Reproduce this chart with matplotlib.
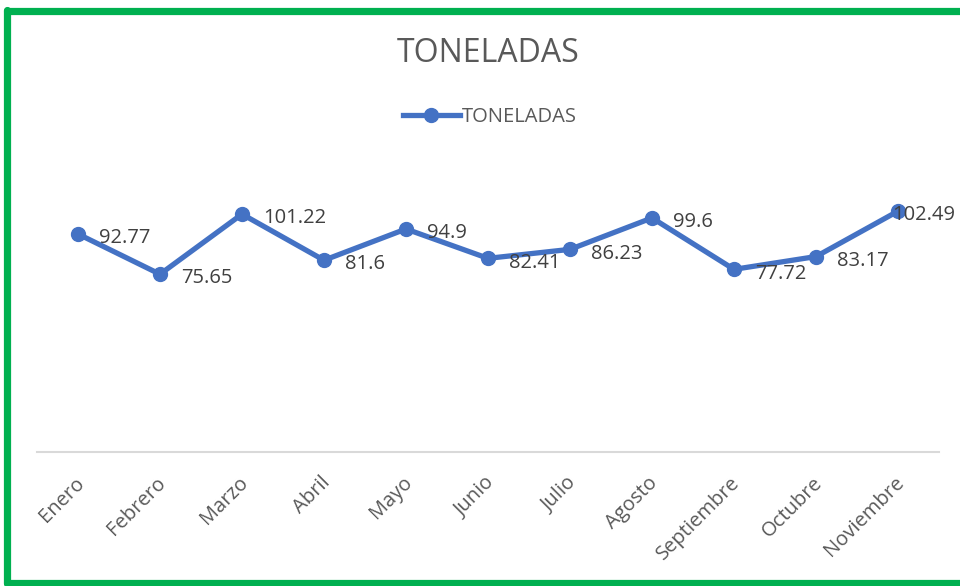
import matplotlib.pyplot as plt
from matplotlib.lines import Line2D
from matplotlib.transforms import ScaledTranslation

meses = ['Enero', 'Febrero', 'Marzo', 'Abril', 'Mayo', 'Junio', 'Julio',
         'Agosto', 'Septiembre', 'Octubre', 'Noviembre']
toneladas = [92.77, 75.65, 101.22, 81.6, 94.9, 82.41, 86.23, 99.6, 77.72, 83.17, 102.49]

azul = '#4472C4'
gris = '#595959'
plt.rcParams['font.family'] = ['Open Sans', 'DejaVu Sans']

fig = plt.figure(figsize=(9.6, 5.86), dpi=100)
ax = fig.add_axes([37 / 960, 134 / 586, 902 / 960, 282 / 586])

x = list(range(len(meses)))
ax.plot(x, toneladas, color=azul, lw=3.8, marker='o', ms=10,
        solid_joinstyle='round', label='TONELADAS', zorder=3)

for xi, v in zip(x, toneladas):
    # la ultima etiqueta se corre a la izquierda para que quepa
    dx = 15 if xi < len(x) - 1 else -4
    ax.annotate(f'{v:g}', (xi, v), xytext=(dx, -3), textcoords='offset points',
                ha='left', va='center', fontsize=14.5, color='#404040', zorder=4)

ax.set_xlim(-0.5, len(meses) - 0.5)
ax.set_ylim(0, 120)
ax.set_yticks([])
ax.set_xticks(x)
ax.set_xticklabels(meses, rotation=45, ha='right', va='top',
                   rotation_mode='anchor', fontsize=14.5, color=gris)
ax.tick_params(axis='x', length=0, pad=15)
desplaza = ScaledTranslation(-4 / 100, 0, fig.dpi_scale_trans)
for t in ax.get_xticklabels():
    t.set_transform(t.get_transform() + desplaza)
for s in ['top', 'right', 'left']:
    ax.spines[s].set_visible(False)
ax.spines['bottom'].set_color('#D9D9D9')
ax.spines['bottom'].set_linewidth(1.5)

fig.text(488 / 960, 1 - 54 / 586, 'TONELADAS', ha='center', va='center',
         fontsize=23, color=gris)
fig.legend(loc='center', bbox_to_anchor=(490 / 960, 1 - 117 / 586), frameon=False,
           fontsize=14.5, labelcolor=gris, handlelength=2.8, handletextpad=0.1)

verde = '#00B050'
for xs, ys in [([6.5, 6.5], [10, 583]), ([6.5, 965], [10.5, 10.5]), ([6.5, 965], [583, 583])]:
    fig.add_artist(Line2D([v / 960 for v in xs], [1 - v / 586 for v in ys],
                          color=verde, lw=5.2, solid_capstyle='round'))

fig.savefig('out.png', dpi=100)
